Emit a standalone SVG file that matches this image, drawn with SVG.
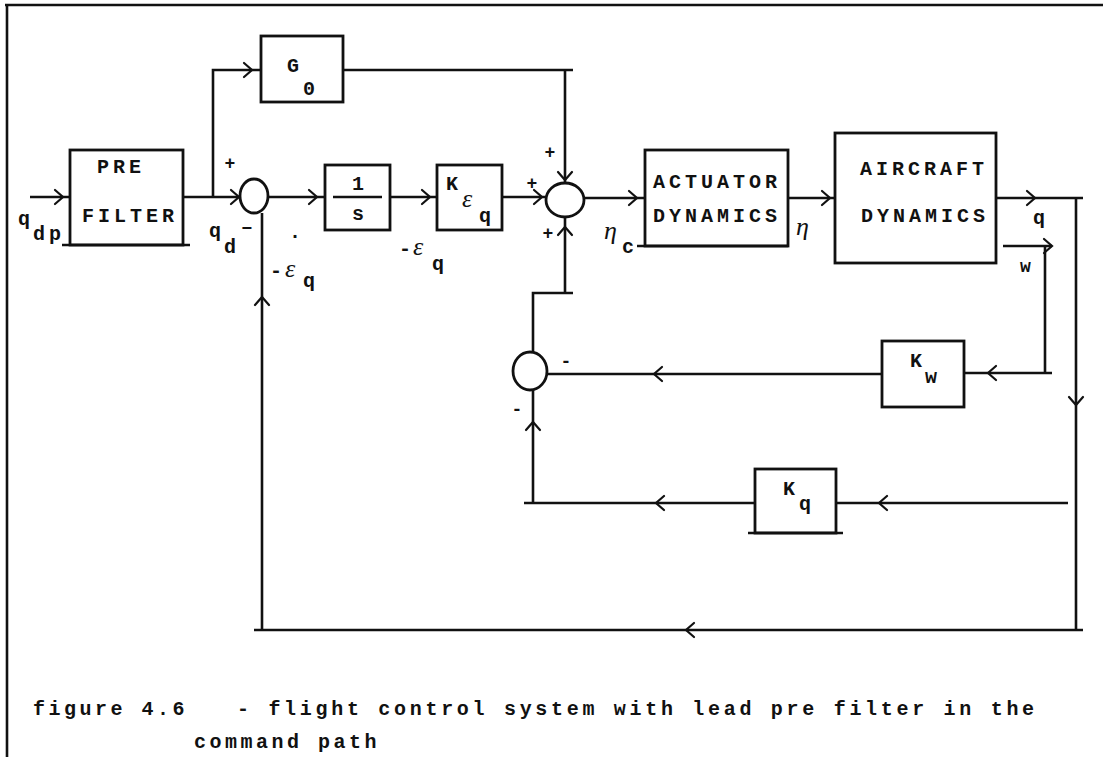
<svg xmlns="http://www.w3.org/2000/svg" xmlns:xlink="http://www.w3.org/1999/xlink" width="1103" height="757" viewBox="0 0 1103 757">
<style>
.ln{fill:none;stroke:#111;stroke-width:2.6;stroke-linecap:butt}
.bx{fill:none;stroke:#111;stroke-width:2.8}
.sj{fill:none;stroke:#111;stroke-width:2.8}
.ch{fill:none;stroke:#111;stroke-width:2.2;stroke-linecap:round;stroke-linejoin:miter}
.t{font-family:"Liberation Mono",monospace;font-weight:bold;font-size:20px;fill:#111;letter-spacing:4px}
.c{font-family:"Liberation Mono",monospace;font-weight:bold;font-size:20px;fill:#111}
.s{font-family:"Liberation Mono",monospace;font-weight:bold;font-size:18px;fill:#111}
.g{font-family:"Liberation Serif",serif;font-style:italic;font-size:26px;fill:#111}
.pm{font-family:"Liberation Mono",monospace;font-weight:bold;font-size:18px;fill:#111;text-anchor:middle}
.cap{font-family:"Liberation Mono",monospace;font-weight:bold;font-size:20px;fill:#111;letter-spacing:3.5px}
</style>
<defs>
<path id="chR" class="ch" d="M-8,-7 L0,0 L-8,7"/>
<path id="chL" class="ch" d="M8,-7 L0,0 L8,7"/>
<path id="chU" class="ch" d="M-7,8 L0,0 L7,8"/>
<path id="chD" class="ch" d="M-7,-8 L0,0 L7,-8"/>
</defs>
<rect width="1103" height="757" fill="#fff"/>
<g id="border">
<path class="ln" d="M5,5 H1103 M7,5 V757" stroke-width="2"/>
</g>
<g id="connectors">
<path class="ln" d="M30,197 H70"/>
<path class="ln" d="M183,197 H240"/>
<path class="ln" d="M213,197 V70 H261"/>
<path class="ln" d="M343,70 H573 M565,70 V183"/>
<path class="ln" d="M269,197 H325"/>
<path class="ln" d="M390,197 H437"/>
<path class="ln" d="M502,197 H546"/>
<path class="ln" d="M584,198 H645"/>
<path class="ln" d="M788,198 H835"/>
<path class="ln" d="M996,198 H1083 M1076,198 V630"/>
<path class="ln" d="M1003,246 H1052 M1045,246 V373"/>
<path class="ln" d="M1052,373 H964"/>
<path class="ln" d="M882,374 H547"/>
<path class="ln" d="M533,352 V293 H573 M565,293 V217"/>
<path class="ln" d="M1068,503 H836"/>
<path class="ln" d="M755,503 H524 M533,503 V390"/>
<path class="ln" d="M1083,630 H254 M262,630 V213"/>
<use xlink:href="#chR" x="63" y="197"/>
<use xlink:href="#chR" x="239" y="197"/>
<use xlink:href="#chR" x="252" y="70"/>
<use xlink:href="#chR" x="317" y="197"/>
<use xlink:href="#chR" x="430" y="197"/>
<use xlink:href="#chR" x="542" y="197"/>
<use xlink:href="#chD" x="565" y="180"/>
<use xlink:href="#chU" x="565" y="227"/>
<use xlink:href="#chR" x="637" y="198"/>
<use xlink:href="#chR" x="830" y="198"/>
<use xlink:href="#chR" x="1035" y="198"/>
<use xlink:href="#chR" x="1052" y="246"/>
<use xlink:href="#chL" x="988" y="373"/>
<use xlink:href="#chL" x="654" y="374"/>
<use xlink:href="#chD" x="1076" y="405"/>
<use xlink:href="#chL" x="879" y="503"/>
<use xlink:href="#chL" x="656" y="503"/>
<use xlink:href="#chU" x="533" y="422"/>
<use xlink:href="#chL" x="686" y="630"/>
<use xlink:href="#chU" x="262" y="297"/>
</g>
<g id="prefilter">
<rect class="bx" x="70" y="150" width="113" height="95"/>
<path class="ln" d="M62,245 H190"/>
<text class="t" x="97" y="173">PRE</text>
<text class="t" x="82" y="222">FILTER</text>
</g>
<g id="g0">
<rect class="bx" x="261" y="36" width="82" height="66"/>
<text class="c" x="287" y="72">G</text>
<text class="c" x="303" y="95">0</text>
</g>
<g id="sum1">
<ellipse class="sj" cx="254" cy="196" rx="14" ry="17"/>
<text class="pm" x="230" y="169" font-size="20">+</text>
<text class="pm" x="247" y="234" font-size="22">−</text>
</g>
<g id="integrator">
<rect class="bx" x="325" y="165" width="65" height="65"/>
<path class="ln" d="M333,197 H382"/>
<text class="c" x="352" y="190">1</text>
<text class="c" x="352" y="220">s</text>
</g>
<g id="gain-keq">
<rect class="bx" x="437" y="165" width="65" height="65"/>
<text class="c" x="446" y="190">K</text>
<text class="g" x="462" y="207">ε</text>
<text class="c" x="479" y="222">q</text>
</g>
<g id="sum2">
<ellipse class="sj" cx="565" cy="200" rx="19" ry="17"/>
<text class="pm" x="550" y="158">+</text>
<text class="pm" x="532" y="189">+</text>
<text class="pm" x="548" y="239">+</text>
</g>
<g id="actuator">
<rect class="bx" x="645" y="150" width="143" height="96"/>
<path class="ln" d="M637,246 H788"/>
<text class="t" x="653" y="188">ACTUATOR</text>
<text class="t" x="653" y="222">DYNAMICS</text>
</g>
<g id="aircraft">
<rect class="bx" x="835" y="133" width="161" height="130"/>
<text class="t" x="860" y="175">AIRCRAFT</text>
<text class="t" x="861" y="222">DYNAMICS</text>
</g>
<g id="gain-kw">
<rect class="bx" x="882" y="341" width="82" height="66"/>
<text class="c" x="910" y="367">K</text>
<text class="c" x="925" y="383">w</text>
</g>
<g id="sum3">
<ellipse class="sj" cx="530" cy="371" rx="17" ry="19"/>
<text class="pm" x="566" y="367" font-size="22">-</text>
<text class="pm" x="517" y="415" font-size="22">-</text>
</g>
<g id="gain-kq">
<rect class="bx" x="755" y="469" width="81" height="64"/>
<path class="ln" d="M748,533 H843"/>
<text class="c" x="783" y="495">K</text>
<text class="c" x="799" y="510">q</text>
</g>
<g id="labels">
<text class="c" x="18" y="225">q</text>
<text class="t" x="33" y="240">dp</text>
<text class="c" x="209" y="237">q</text>
<text class="c" x="224" y="253">d</text>
<text class="c" x="289" y="238">.</text>
<text class="c" x="270" y="277">-</text>
<text class="g" x="285" y="277">ε</text>
<text class="c" x="303" y="287">q</text>
<text class="c" x="399" y="255">-</text>
<text class="g" x="413" y="255">ε</text>
<text class="c" x="432" y="270">q</text>
<text class="g" x="604" y="239">η</text>
<text class="c" x="622" y="253">c</text>
<text class="g" x="796" y="235">η</text>
<text class="c" x="1033" y="224">q</text>
<text class="s" x="1020" y="272">w</text>
</g>
<g id="caption">
<text class="cap" x="33" y="715">figure 4.6</text>
<text class="cap" x="237" y="715" style="letter-spacing:3.7px">- flight control system with lead pre filter in the</text>
<text class="cap" x="194" y="748">command path</text>
</g>
</svg>
